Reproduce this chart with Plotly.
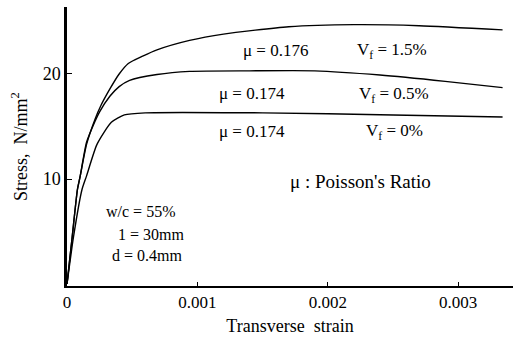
import plotly.graph_objects as go

# Data (transverse strain, stress N/mm^2)
strain_15 = [0, 0.00004, 0.00008, 0.0001, 0.00015, 0.000215, 0.00026, 0.00033, 0.0004, 0.00047, 0.00058, 0.00069, 0.00094, 0.0012, 0.0017, 0.0022, 0.0027, 0.00334]
stress_15 = [0, 4.5, 9.0, 10.2, 13.3, 15.7, 17.0, 18.6, 20.0, 21.0, 21.7, 22.3, 23.2, 23.8, 24.5, 24.7, 24.6, 24.2]

strain_05 = [0, 0.00004, 0.00008, 0.0001, 0.00015, 0.000215, 0.00025, 0.00033, 0.0004, 0.00048, 0.00069, 0.00094, 0.0014, 0.0019, 0.0024, 0.0029, 0.00334]
stress_05 = [0, 4.5, 9.0, 10.2, 13.5, 15.5, 16.4, 17.9, 18.8, 19.4, 19.95, 20.25, 20.3, 20.3, 19.9, 19.3, 18.7]

strain_00 = [0, 0.00005, 0.000115, 0.00015, 0.00023, 0.00034, 0.00044, 0.0006, 0.0015, 0.0025, 0.00334]
stress_00 = [0, 4.5, 9.0, 10.3, 13.3, 15.4, 16.1, 16.3, 16.3, 16.1, 15.9]

x_ticks = [0, 0.001, 0.002, 0.003]
x_ticklabels = ["0", "0.001", "0.002", "0.003"]
y_ticks = [10, 20]

FONT = "Liberation Serif"

fig = go.Figure()
for sx, sy in [(strain_15, stress_15), (strain_05, stress_05), (strain_00, stress_00)]:
    fig.add_trace(go.Scatter(x=sx, y=sy, mode="lines",
                             line=dict(color="black", width=1.4, shape="spline", smoothing=0.6),
                             showlegend=False, hoverinfo="skip"))

ann = [
    ("μ = 0.176", 0.00160, 22.2, 17),
    ("V<sub>f</sub> = 1.5%", 0.00249, 22.2, 17),
    ("μ = 0.174", 0.00142, 18.1, 17),
    ("V<sub>f</sub> = 0.5%", 0.00251, 18.0, 17),
    ("μ = 0.174", 0.00142, 14.5, 17),
    ("V<sub>f</sub> = 0%", 0.00251, 14.5, 17),
    ("μ : Poisson's Ratio", 0.00225, 9.8, 19),
]
for t, x, y, s in ann:
    fig.add_annotation(x=x, y=y, xref="x", yref="y", text=t, showarrow=False,
                       font=dict(family=FONT, size=s, color="black"))

side = [("w/c = 55%", 0.000284, 6.9), ("1 = 30mm", 0.000375, 4.75), ("d = 0.4mm", 0.00033, 2.75)]
for t, x, y in side:
    fig.add_annotation(x=x, y=y, xref="x", yref="y", text=t, showarrow=False, xanchor="left",
                       font=dict(family=FONT, size=16, color="black"))

fig.update_layout(
    width=520, height=345,
    margin=dict(l=67, r=7, t=7, b=59),
    paper_bgcolor="white", plot_bgcolor="white",
    font=dict(family=FONT, color="black"),
    xaxis=dict(range=[0, 0.00342], tickvals=x_ticks, ticktext=x_ticklabels,
               showgrid=False, zeroline=False, showline=True, linecolor="black", linewidth=2,
               ticks="inside", ticklen=4, tickcolor="black",
               tickfont=dict(family=FONT, size=17),
               title=dict(text="Transverse  strain", font=dict(family=FONT, size=18), standoff=8)),
    yaxis=dict(range=[-0.19, 26.38], tickvals=y_ticks,
               showgrid=False, zeroline=False, showline=True, linecolor="black", linewidth=2.5,
               ticks="inside", ticklen=5, tickcolor="black",
               tickfont=dict(family=FONT, size=18),
               title=dict(text="Stress,  N/mm<sup>2</sup>", font=dict(family=FONT, size=18), standoff=11)),
)

fig.write_html("out.html")
